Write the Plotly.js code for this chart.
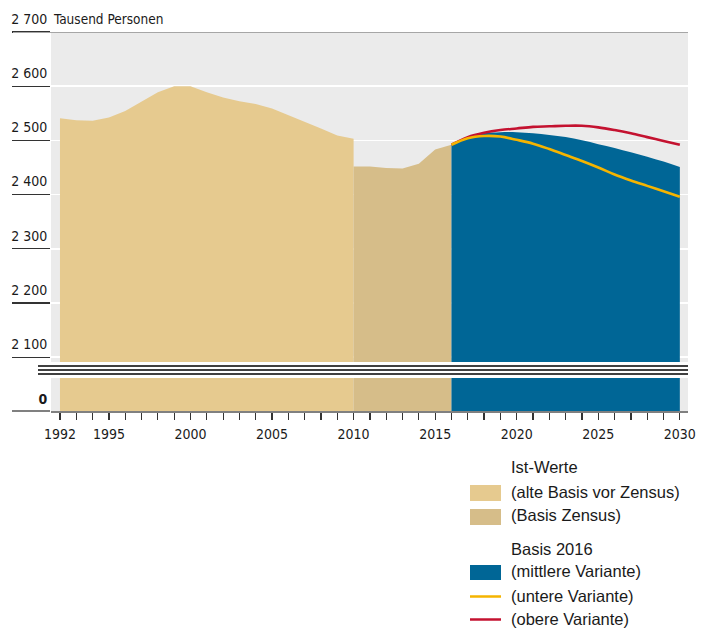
<!DOCTYPE html>
<html>
<head>
<meta charset="utf-8">
<script src="https://cdn.plot.ly/plotly-3.0.1.min.js"></script>
<style>
  html, body { margin: 0; padding: 0; background: #ffffff; }
  #chart { width: 706px; height: 628px; }
</style>
</head>
<body>
<div id="chart"></div>
<script>
// ---------- data ----------
const yearsAlt = [1992, 1993, 1994, 1995, 1996, 1997, 1998, 1999, 2000, 2001, 2002, 2003, 2004, 2005, 2006, 2007, 2008, 2009, 2010];
const valuesAlt = [2541, 2537, 2536, 2542, 2554, 2572, 2589, 2600, 2600, 2589, 2579, 2572, 2567, 2559, 2547, 2534, 2522, 2509, 2503];

const yearsZensus = [2010, 2011, 2012, 2013, 2014, 2015, 2016];
const valuesZensus = [2452, 2452, 2449, 2448, 2457, 2483, 2492];

const yearsProj = [2016, 2017, 2018, 2019, 2020, 2021, 2022, 2023, 2024, 2025, 2026, 2027, 2028, 2029, 2030];
const valuesMittel = [2492, 2506, 2513, 2515, 2515, 2513, 2510, 2506, 2500, 2493, 2486, 2478, 2470, 2461, 2451];
const valuesUnter  = [2492, 2504, 2508, 2507, 2501, 2494, 2484, 2473, 2462, 2450, 2437, 2426, 2416, 2406, 2396];
const valuesOber   = [2492, 2506, 2514, 2519, 2522, 2525, 2526, 2527, 2527, 2524, 2519, 2513, 2506, 2499, 2492];

const yTickVals = [2100, 2200, 2300, 2400, 2500, 2600, 2700];
const yTickText = ['2 100', '2 200', '2 300', '2 400', '2 500', '2 600', '2 700'];
const xLabelYears = [1992, 1995, 2000, 2005, 2010, 2015, 2020, 2025, 2030];
const unitLabel = 'Tausend Personen';

const legendGroups = ['Ist-Werte', 'Basis 2016'];
const legendItems = ['(alte Basis vor Zensus)', '(Basis Zensus)', '(mittlere Variante)', '(untere Variante)', '(obere Variante)'];

// ---------- styles ----------
const cAlt = '#e6ca8f';
const cZensus = '#d6bd89';
const cBlue = '#006696';
const cYellow = '#f5b400';
const cRed = '#c41230';
const narrow = 'DejaVu Sans Condensed, Liberation Sans Narrow, sans-serif';
const legendFont = 'Liberation Sans, Arial, sans-serif';

// geometry helpers (pixel -> paper)
const W = 706, H = 628;
const mL = 51, mR = 18, mT = 32, mB = 217;
const pw = W - mL - mR, ph = H - mT - mB;
const px = v => (v - mL) / pw;
const py = v => (H - mB - v) / ph;

const allYears = [];
for (let y = yearsAlt[0]; y <= yearsProj[yearsProj.length - 1]; y++) allYears.push(y);
const xTickText = allYears.map(y => xLabelYears.includes(y) ? String(y) : '');

function areaTrace(x, y, color, yaxis, shape) {
  return {
    x: x, y: y, type: 'scatter', mode: 'lines', fill: 'tozeroy',
    fillcolor: color, line: {width: 0, color: color, shape: shape || 'linear'},
    yaxis: yaxis, hoverinfo: 'skip', showlegend: false
  };
}

const traces = [
  areaTrace(yearsAlt, valuesAlt, cAlt, 'y'),
  areaTrace(yearsZensus, valuesZensus, cZensus, 'y'),
  areaTrace(yearsProj, valuesMittel, cBlue, 'y', 'spline'),
  {x: yearsProj, y: valuesOber, type: 'scatter', mode: 'lines', line: {color: cRed, width: 2.6, shape: 'spline'}, yaxis: 'y', hoverinfo: 'skip', showlegend: false},
  {x: yearsProj, y: valuesUnter, type: 'scatter', mode: 'lines', line: {color: cYellow, width: 2.6, shape: 'spline'}, yaxis: 'y', hoverinfo: 'skip', showlegend: false},
  areaTrace(yearsAlt, valuesAlt, cAlt, 'y2'),
  areaTrace(yearsZensus, valuesZensus, cZensus, 'y2'),
  areaTrace(yearsProj, valuesMittel, cBlue, 'y2', 'spline')
];

const shapes = [];
// top 2700 line
shapes.push({type: 'line', xref: 'paper', yref: 'y', x0: px(13), x1: 1, y0: 2700, y1: 2700, line: {color: '#a6a6a6', width: 2}, layer: 'above'});
// axis break lines
[366, 370, 374].forEach(v => shapes.push({type: 'line', xref: 'paper', yref: 'paper', x0: px(38), x1: 1, y0: py(v), y1: py(v), line: {color: '#000000', width: 1.3}}));
// legend swatches
shapes.push({type: 'rect', xref: 'paper', yref: 'paper', x0: px(470), x1: px(501), y0: py(501), y1: py(485), fillcolor: cAlt, line: {width: 0}});
shapes.push({type: 'rect', xref: 'paper', yref: 'paper', x0: px(470), x1: px(501), y0: py(525), y1: py(509), fillcolor: cZensus, line: {width: 0}});
shapes.push({type: 'rect', xref: 'paper', yref: 'paper', x0: px(470), x1: px(501), y0: py(580), y1: py(565), fillcolor: cBlue, line: {width: 0}});
shapes.push({type: 'line', xref: 'paper', yref: 'paper', x0: px(470), x1: px(501), y0: py(596.5), y1: py(596.5), line: {color: cYellow, width: 2.5}});
shapes.push({type: 'line', xref: 'paper', yref: 'paper', x0: px(470), x1: px(501), y0: py(619.5), y1: py(619.5), line: {color: cRed, width: 2.5}});

const annotations = [];
annotations.push({text: unitLabel, xref: 'paper', yref: 'paper', x: px(52), y: py(19), xanchor: 'left', yanchor: 'middle', showarrow: false, borderpad: 0, font: {family: narrow, size: 13.5, color: '#1a1a1a'}});
const legendRows = [
  [legendGroups[0], 466.5], [legendItems[0], 491.5], [legendItems[1], 515],
  [legendGroups[1], 548.5], [legendItems[2], 571], [legendItems[3], 595.5], [legendItems[4], 619]
];
legendRows.forEach(r => annotations.push({text: r[0], xref: 'paper', yref: 'paper', x: px(510), y: py(r[1]), xanchor: 'left', yanchor: 'middle', showarrow: false, borderpad: 0, font: {family: legendFont, size: 16.5, color: '#1a1a1a'}}));

const layout = {
  width: W, height: H,
  margin: {l: mL, r: mR, t: mT, b: mB, pad: 0},
  paper_bgcolor: '#ffffff', plot_bgcolor: '#ebebeb',
  showlegend: false,
  hovermode: false,
  xaxis: {
    range: [1991.45, 2030.5], anchor: 'y2',
    tickmode: 'array', tickvals: allYears, ticktext: xTickText,
    ticks: 'outside', ticklen: 7, tickwidth: 1.2, tickcolor: '#333333',
    ticklabelstandoff: 3,
    showline: true, linecolor: '#808080', linewidth: 1.5,
    showgrid: false, zeroline: false,
    tickfont: {family: narrow, size: 14, color: '#1a1a1a'}
  },
  yaxis: {
    domain: [py(362), 1], range: [2091, 2700],
    tickmode: 'array', tickvals: yTickVals, ticktext: yTickText,
    ticks: 'outside', ticklen: 38, tickwidth: 1.2, tickcolor: '#333333',
    ticklabelstandoff: -38, ticklabelshift: -13,
    showgrid: true, gridcolor: '#ffffff', gridwidth: 1.5,
    zeroline: false, showline: false,
    tickfont: {family: narrow, size: 14, color: '#1a1a1a'}
  },
  yaxis2: {
    domain: [0, py(378)], range: [0, 100],
    tickmode: 'array', tickvals: [0], ticktext: ['<b>0</b>'],
    ticks: 'outside', ticklen: 38, tickwidth: 1.5, tickcolor: '#808080',
    ticklabelstandoff: -38, ticklabelshift: -12,
    showgrid: false, zeroline: false, showline: false,
    tickfont: {family: narrow, size: 14, color: '#1a1a1a'}
  },
  shapes: shapes,
  annotations: annotations
};

Plotly.newPlot('chart', traces, layout, {displayModeBar: false, staticPlot: true});
</script>
</body>
</html>
